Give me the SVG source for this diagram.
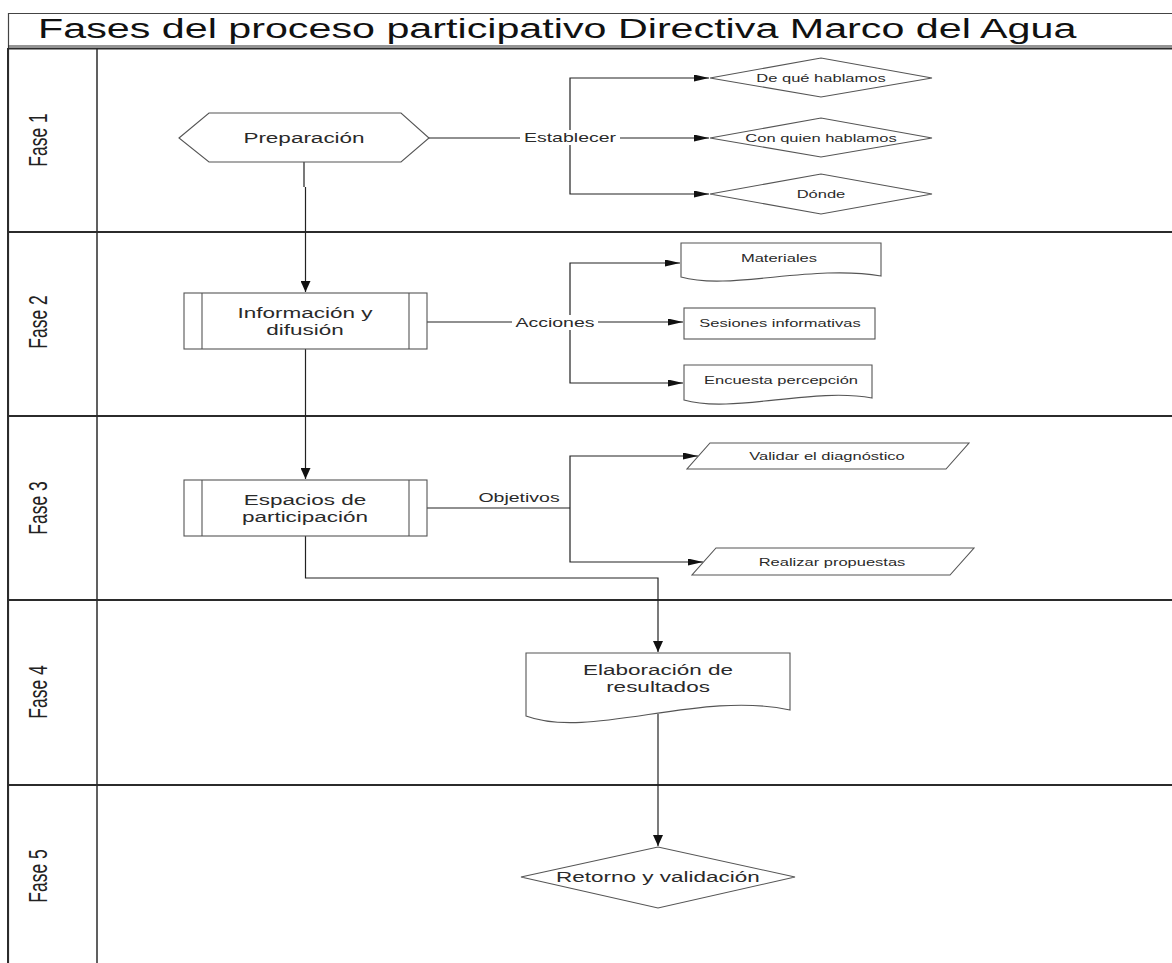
<svg xmlns="http://www.w3.org/2000/svg" width="1172" height="963" viewBox="0 0 1172 963">
<style>
text{font-family:"Liberation Sans",Arial,sans-serif;fill:#2a2a2a;text-anchor:middle}
.title{font-size:27.5px;fill:#111;text-anchor:start}
.lane{font-size:17.5px;fill:#222}
.t15{font-size:15px}
.t13{font-size:13px}
.t11{font-size:11px}
.shape{fill:#fff;stroke:#555;stroke-width:1.1}
.lanes{fill:none;stroke:#2b2b2b;stroke-width:2}
.conn path{fill:none;stroke:#222;stroke-width:1.2}
.lblbg{fill:#fff;stroke:none}
</style>
<defs>
<marker id="ah" markerUnits="userSpaceOnUse" markerWidth="15" markerHeight="7" refX="15" refY="3.5" orient="auto"><path d="M0,0 L15,3.5 L0,7 z" fill="#111"/></marker>
<marker id="av" markerUnits="userSpaceOnUse" markerWidth="11" markerHeight="10" refX="11" refY="5" orient="auto"><path d="M0,0 L11,5 L0,10 z" fill="#111"/></marker>
</defs>
<rect width="1172" height="963" fill="#fff"/>
<g id="pool">
<path class="lanes" d="M1180,13.5 H8.5 V963" style="stroke-width:1.2;stroke:#444"/>
<line class="lanes" x1="8" y1="46" x2="1172" y2="46" style="stroke-width:1.2"/>
<line class="lanes" x1="8" y1="48.5" x2="1172" y2="48.5"/>
<line class="lanes" x1="8" y1="232" x2="1172" y2="232"/>
<line class="lanes" x1="8" y1="416" x2="1172" y2="416"/>
<line class="lanes" x1="8" y1="600" x2="1172" y2="600"/>
<line class="lanes" x1="8" y1="785" x2="1172" y2="785"/>
<line class="lanes" x1="97" y1="48" x2="97" y2="963" style="stroke-width:1.5"/>
<line class="lanes" x1="8" y1="48" x2="8" y2="963"/>
<text class="title" transform="translate(38 38) scale(1.5 1)">Fases del proceso participativo Directiva Marco del Agua</text>
<text class="lane" transform="translate(38 140) scale(1.5 1) rotate(-90)" y="6">Fase 1</text>
<text class="lane" transform="translate(38 322) scale(1.5 1) rotate(-90)" y="6">Fase 2</text>
<text class="lane" transform="translate(38 508) scale(1.5 1) rotate(-90)" y="6">Fase 3</text>
<text class="lane" transform="translate(38 692) scale(1.5 1) rotate(-90)" y="6">Fase 4</text>
<text class="lane" transform="translate(38 876) scale(1.5 1) rotate(-90)" y="6">Fase 5</text>
</g>
<g id="connectors" class="conn">
<path d="M304,162 V187 M305.5,187 V292" marker-end="url(#av)"/>
<path d="M429,138 H709" marker-end="url(#ah)"/>
<path d="M570,138 V78 H709" marker-end="url(#ah)"/>
<path d="M570,138 V194 H709" marker-end="url(#ah)"/>
<path d="M427,322 H683" marker-end="url(#ah)"/>
<path d="M570,322 V263 H680" marker-end="url(#ah)"/>
<path d="M570,322 V383 H683" marker-end="url(#ah)"/>
<path d="M427,508 H570"/>
<path d="M570,508 V456 H698" marker-end="url(#ah)"/>
<path d="M570,508 V562 H703" marker-end="url(#ah)"/>
<path d="M305.5,349 V479" marker-end="url(#av)"/>
<path d="M305.5,536 V578 H658 V652" marker-end="url(#av)"/>
<path d="M658,714 V846" marker-end="url(#av)"/>
<rect class="lblbg" x="520" y="130" width="100" height="15"/>
<text class="t13" transform="translate(570 142) scale(1.5 1)">Establecer</text>
<rect class="lblbg" x="512" y="315" width="86" height="15"/>
<text class="t13" transform="translate(555 327) scale(1.5 1)">Acciones</text>
<text class="t13" transform="translate(519 502) scale(1.5 1)">Objetivos</text>
</g>
<g id="preparacion">
<polygon class="shape" points="179,138 209,113 401,113 429,138 401,162 209,162"/>
<text class="t15" transform="translate(304 143) scale(1.5 1)">Preparación</text>
</g>
<g id="de-que-hablamos">
<polygon class="shape" points="710,78 821,58 932,78 821,97"/>
<text class="t11" transform="translate(821 82) scale(1.5 1)">De qué hablamos</text>
</g>
<g id="con-quien-hablamos">
<polygon class="shape" points="710,138 821,118 932,138 821,157"/>
<text class="t11" transform="translate(821 142) scale(1.5 1)">Con quien hablamos</text>
</g>
<g id="donde">
<polygon class="shape" points="710,194 821,174 932,194 821,214"/>
<text class="t11" transform="translate(821 198) scale(1.5 1)">Dónde</text>
</g>
<g id="informacion">
<rect class="shape" x="184" y="293" width="243" height="56"/>
<line class="shape" x1="202" y1="293" x2="202" y2="349"/>
<line class="shape" x1="409" y1="293" x2="409" y2="349"/>
<text class="t15" transform="translate(305 318) scale(1.5 1)">Información y</text>
<text class="t15" transform="translate(305 335) scale(1.5 1)">difusión</text>
</g>
<g id="materiales">
<path class="shape" d="M681,243 H881 V276 C812,264 729,291 681,277 Z"/>
<text class="t11" transform="translate(779 262) scale(1.5 1)">Materiales</text>
</g>
<g id="sesiones">
<rect class="shape" x="684" y="308" width="191" height="31"/>
<text class="t11" transform="translate(780 327) scale(1.5 1)">Sesiones informativas</text>
</g>
<g id="encuesta">
<path class="shape" d="M684,365 H872 V398 C813,387 731,414 684,400 Z"/>
<text class="t11" transform="translate(781 384) scale(1.5 1)">Encuesta percepción</text>
</g>
<g id="espacios">
<rect class="shape" x="184" y="480" width="243" height="56"/>
<line class="shape" x1="202" y1="480" x2="202" y2="536"/>
<line class="shape" x1="409" y1="480" x2="409" y2="536"/>
<text class="t15" transform="translate(305 505) scale(1.5 1)">Espacios de</text>
<text class="t15" transform="translate(305 522) scale(1.5 1)">participación</text>
</g>
<g id="validar">
<polygon class="shape" points="710,443 969,443 946,469 687,469"/>
<text class="t11" transform="translate(827 460) scale(1.5 1)">Validar el diagnóstico</text>
</g>
<g id="realizar">
<polygon class="shape" points="716,548 974,548 950,575 692,575"/>
<text class="t11" transform="translate(832 566) scale(1.5 1)">Realizar propuestas</text>
</g>
<g id="elaboracion">
<path class="shape" d="M526,653 H790 V710 C700,690 590,740 526,716 Z"/>
<text class="t15" transform="translate(658 675) scale(1.5 1)">Elaboración de</text>
<text class="t15" transform="translate(658 692) scale(1.5 1)">resultados</text>
</g>
<g id="retorno">
<polygon class="shape" points="521,877 658,847 795,877 658,908"/>
<text class="t15" transform="translate(658 882) scale(1.5 1)">Retorno y validación</text>
</g>
</svg>
